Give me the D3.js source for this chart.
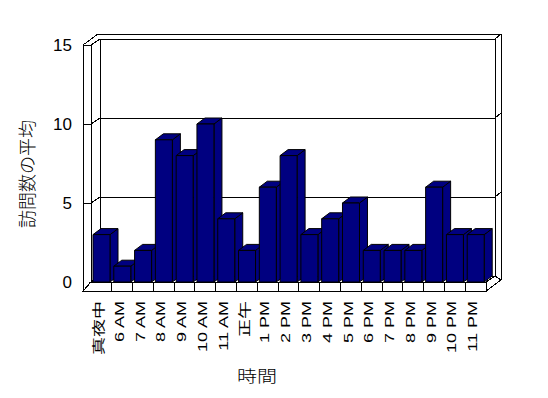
<!DOCTYPE html>
<html><head><meta charset="utf-8">
<script src="https://cdn.jsdelivr.net/npm/d3@7"></script>
<style>body{margin:0;background:#fff}svg{display:block}</style>
</head><body>
<script>
const categories = ["真夜中","6 AM","7 AM","8 AM","9 AM","10 AM","11 AM","正午","1 PM","2 PM","3 PM","4 PM","5 PM","6 PM","7 PM","8 PM","9 PM","10 PM","11 PM"];
const values = [3,1,2,9,8,10,4,2,6,8,3,4,5,2,2,2,6,3,3];
const yTicks = [0,5,10,15];
const yTitle = "訪問数の平均";
const xTitle = "時間";

const W = 548, H = 398;
const svg = d3.select("body").append("svg").attr("width", W).attr("height", H);

const x = d3.scaleBand().domain(categories).range([91, 486]).paddingInner(0).paddingOuter(0);
const y = d3.scaleLinear().domain([0, 15]).range([282, 45]);

const FX = 9, FY = -6;    // floor depth
const TX = 6, TY = -5;    // back wall thickness
const BX = 8, BY = -6;    // bar depth
const WL = 83;            // left wall outer x
const FB = 291;           // floor bottom
const xl = x.range()[0], xr = x.range()[1];
const y0 = y(0), yTop = y(15);

const line = (pts) => "M" + pts.map(p => p.join(",")).join("L");
const poly = (pts) => line(pts) + "Z";
const g = svg.append("g").attr("fill", "none").attr("stroke", "#000").attr("stroke-width", 1)
  .attr("shape-rendering", "crispEdges");

// floor top surface
g.append("path").attr("d", poly([[xl,y0],[xr,y0],[xr+FX,y0+FY],[xl+FX,y0+FY]])).attr("fill","#fff");
// back wall verticals
g.append("path").attr("d", line([[xl+FX, yTop+FY],[xl+FX, y0+FY]]));
g.append("path").attr("d", line([[xr+FX, yTop+FY],[xr+FX, y0+FY]]));
g.append("path").attr("d", line([[xr+FX+TX, yTop+FY+TY],[xr+FX+TX, FB+FY+TY]]));
// top edges
g.append("path").attr("d", line([[WL, yTop],[xl, yTop]]));
g.append("path").attr("d", line([[WL, yTop],[WL+FX+TX, yTop+FY+TY],[xr+FX+TX, yTop+FY+TY],[xr+FX, yTop+FY]]));
// gridlines
yTicks.filter(v => v > 0).forEach(v => {
  const yf = y(v);
  g.append("path").attr("d", line([[WL, yf],[xl, yf],[xl+FX, yf+FY],[xr+FX, yf+FY],[xr+FX+TX, yf+FY+TY]]));
});
// left wall front face
g.append("path").attr("d", poly([[WL, yTop],[xl, yTop],[xl, FB],[WL, FB]]));
// floor front face
g.append("path").attr("d", poly([[xl, y0],[xr, y0],[xr, FB],[WL, FB]])).attr("fill","#fff");
g.append("path").attr("d", line([[WL, FB],[xl, FB]]));
// floor right face
g.append("path").attr("d", poly([[xr, y0],[xr, FB],[xr+FX+TX, FB+FY+TY],[xr+FX, y0+FY]])).attr("fill","#fff");
// ticks on floor face
categories.slice(1).forEach(c => {
  const xx = x(c);
  g.append("path").attr("d", line([[xx, y0],[xx, FB]]));
});

// bars
const bw = 17, boff = 2;
const bars = svg.append("g").attr("stroke", "#000").attr("stroke-width", 1).attr("fill", "#000080")
  .attr("stroke-linejoin","miter");
categories.forEach((c, i) => {
  const x0 = x(c) + boff, x1 = x0 + bw;
  const yt = y(values[i]);
  const bg = bars.append("g");
  // side
  bg.append("path").attr("d", poly([[x1, y0],[x1, yt],[x1+BX, yt+BY],[x1+BX, y0+BY]]));
  // top
  bg.append("path").attr("d", poly([[x0, yt],[x1, yt],[x1+BX, yt+BY],[x0+BX, yt+BY]]));
  // front
  bg.append("path").attr("d", poly([[x0, y0],[x1, y0],[x1, yt],[x0, yt]]));
});

// y tick labels
svg.append("g").selectAll("text").data(yTicks).join("text")
  .attr("x", 72).attr("y", d => y(d)).attr("dy", "0.36em")
  .attr("text-anchor", "end")
  .attr("font-family", "Liberation Sans, Arial, sans-serif").attr("font-size", 17)
  .text(d => d);

// x labels
svg.append("g").selectAll("text").data(categories).join("text")
  .attr("transform", d => `translate(${x(d) + x.bandwidth()/2 - 3},301) rotate(-90) scale(1,0.72)`)
  .attr("text-anchor", "end").attr("dy", "0.36em")
  .attr("font-family", "Liberation Sans, Arial, 'Noto Sans CJK JP', sans-serif").attr("font-size", 18)
  .text(d => d);

// y title
svg.append("text").attr("transform", "translate(28,174) rotate(-90)")
  .attr("text-anchor", "middle").attr("dy", "0.36em")
  .attr("font-family", "'Noto Sans CJK JP', sans-serif").attr("font-size", 18).attr("font-weight", 300)
  .text(yTitle);

// x title
svg.append("text").attr("transform", "translate(257,376) scale(1.25,1)")
  .attr("text-anchor", "middle").attr("dy", "0.36em")
  .attr("font-family", "'Noto Sans CJK JP', sans-serif").attr("font-size", 16).attr("font-weight", 300)
  .text(xTitle);
</script>
</body></html>
